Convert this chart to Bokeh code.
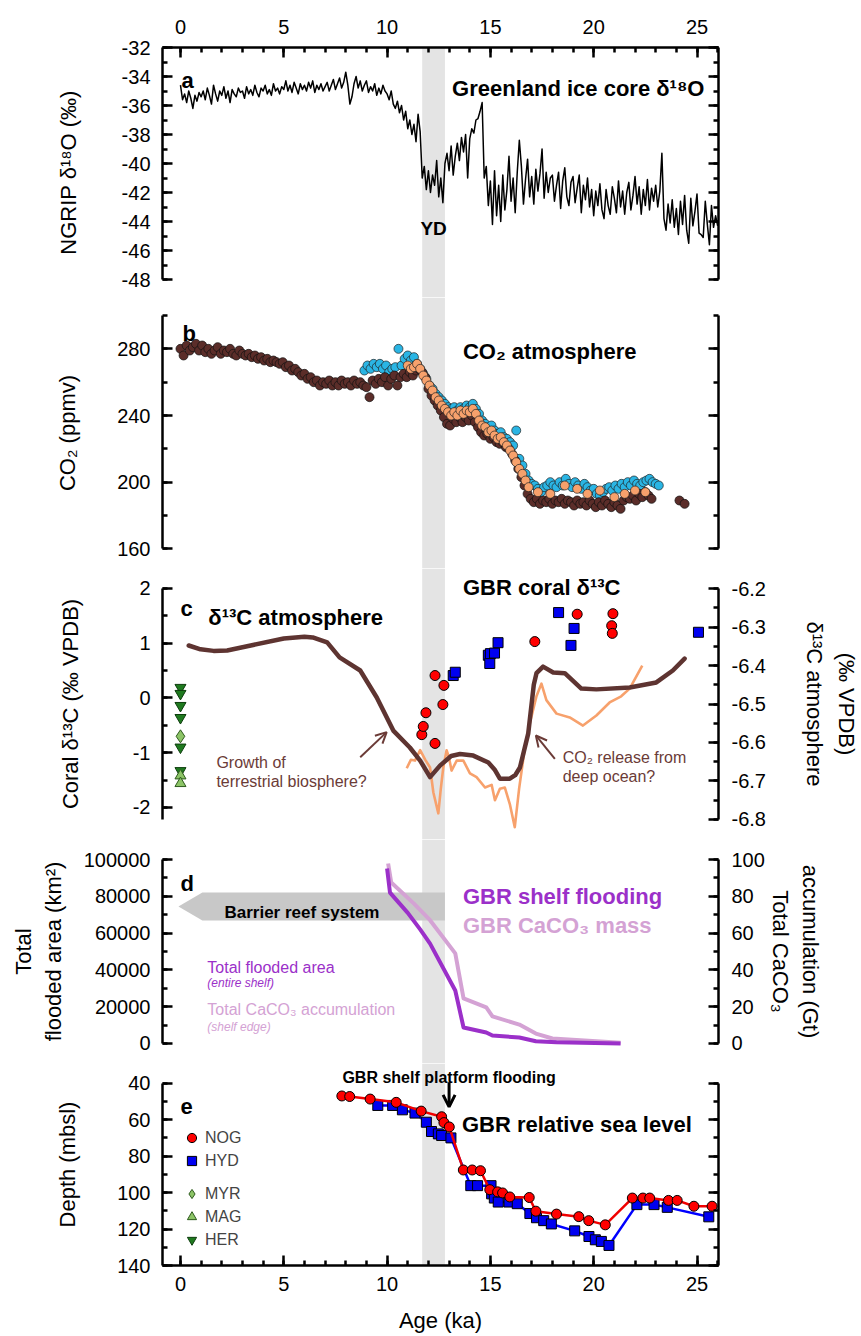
import math
from bokeh.plotting import figure
from bokeh.models import (Range1d, LinearAxis, SingleIntervalTicker, FixedTicker,
                          BoxAnnotation, PolyAnnotation, Label, Arrow, OpenHead, Legend,
                          LegendItem, PrintfTickFormatter)
from bokeh.layouts import column
from bokeh.embed import file_html
from bokeh.resources import INLINE

# ---------------- data ----------------
yd_start, yd_end = 11.7, 12.8

# (a) NGRIP d18O, 0.1 ka sampling from 0 ka
ngrip_step = 0.1
ngrip_d18o = [
    -34.6, -35.6, -35.2, -35.8, -35.0, -35.5, -36.2, -35.3, -35.7, -35.1,
    -35.4, -35.0, -35.6, -34.8, -35.3, -35.9, -34.6, -35.2, -35.7, -35.0,
    -35.3, -34.7, -35.5, -35.0, -35.8, -34.9, -35.2, -35.4, -34.8, -35.1,
    -35.0, -35.5, -34.7, -35.2, -34.9, -35.3, -34.6, -35.1, -35.4, -34.8,
    -35.0, -34.6, -35.2, -34.9, -35.3, -34.5, -35.0, -34.8, -35.2, -34.7,
    -34.9, -34.3, -35.0, -34.6, -35.1, -34.4, -34.8, -35.2, -34.5, -34.9,
    -34.6, -35.0, -34.4, -34.8, -34.3, -35.1, -34.6, -34.9, -34.5, -35.0,
    -34.7, -34.4, -35.0, -34.6, -34.2, -34.9, -34.5, -34.1, -34.8, -34.4,
    -33.7, -34.6, -35.9, -35.4, -34.5, -34.0, -34.8, -34.3, -35.0, -34.6,
    -34.3, -35.1, -34.7, -35.0, -34.5, -35.3, -34.8, -35.2, -34.6, -35.0,
    -35.2, -35.6, -35.0, -35.9, -36.2, -35.7, -36.5, -36.0, -37.0, -36.4,
    -37.6, -37.0, -38.0, -37.3, -38.5, -36.6, -37.8, -41.0, -40.2, -41.8,
    -40.5, -42.0, -40.8, -41.5, -39.8, -42.3, -41.0, -42.7, -40.0, -39.3,
    -40.5, -38.8, -40.8, -39.5, -38.6, -39.8, -38.2, -39.2, -38.0, -41.0,
    -38.3, -37.6, -37.9, -37.0, -36.9, -36.4, -35.8, -41.0, -40.2, -42.9,
    -41.2, -44.2, -40.5, -43.6, -41.5, -44.0, -40.8, -43.2, -41.8, -39.5,
    -42.6, -41.0, -43.4, -40.6, -38.4, -40.2, -42.8, -41.1, -39.7, -42.3,
    -40.9, -42.8, -40.4, -41.9, -40.7, -39.0, -42.4, -40.6, -42.0, -41.0,
    -40.8, -42.6, -41.5, -40.6, -43.1, -41.2, -40.3, -42.3, -42.9, -41.3,
    -40.9, -42.7, -41.7, -40.8, -43.4, -41.5, -42.5, -41.0, -43.0, -41.8,
    -43.6, -41.9, -42.9, -41.4, -43.2, -43.8, -41.8, -42.9, -43.5, -41.6,
    -42.4, -43.4, -41.2, -43.0, -41.9, -43.5, -42.0, -41.3, -43.2, -42.2,
    -40.9, -42.8, -41.6, -43.5, -41.8, -42.9, -41.1, -43.2, -41.7, -42.6,
    -41.5, -43.0, -41.9, -39.3, -43.8, -44.6, -42.8, -44.1, -42.5, -44.4,
    -43.1, -44.9, -42.6, -44.2, -42.2, -44.6, -45.5, -42.4, -44.3, -43.3,
    -42.1, -44.8, -44.9, -45.1, -42.6, -44.2, -45.6, -42.9, -44.4, -43.6, -44.3,
]

# (b) CO2 (ppmv)
co2_dark_step = 0.15
co2_dark = [
    280, 276, 282, 279, 281, 283, 279, 282, 278, 280,
    277, 279, 281, 277, 279, 278, 280, 277, 276, 279,
    277, 276, 277, 275, 276, 274, 275, 273, 274, 272,
    273, 272, 271, 272, 269, 270, 267, 268, 266, 264,
    265, 262, 263, 260, 261, 258, 260, 259, 261, 258,
    260, 258, 261, 259, 260, 258, 261, 259, 260, 258,
    257, 251, 261, 259, 262, 260, 263, 258, 262, 264,
    258, 263, 265, 263, 266, 264, 267, 268, 266, 263,
    256, 252, 249, 246, 243, 239, 235, 234, 238, 236,
    239, 236, 239, 237, 240, 236, 233, 230, 228, 229,
    226, 227, 224, 223, 224, 221, 220, 217, 213, 208,
    203, 198, 193, 190, 188, 190, 187, 189, 188, 190,
    187, 189, 188, 190, 187, 189, 188, 186, 189, 187,
    188, 186, 189, 187, 185, 188, 186, 189, 187, 185,
    188, 186, 184, 189, 191, 190, 192, 189, 193, 191,
    194, 192, 190,
]
co2_dark_tail_age = [24.15, 24.4]
co2_dark_tail = [189, 187]

co2_cyan_start, co2_cyan_step = 8.9, 0.15
co2_cyan = [
    267, 270, 268, 271, 269, 271, 268, 270, 266, 268,
    269, 280, 270, 274, 276, 273, 275, 271, 268, 265,
    262, 258, 256, 253, 251, 249, 247, 245, 244, 245,
    243, 245, 244, 246, 245, 247, 244, 241, 237, 235,
    233, 234, 231, 229, 230, 227, 226, 224, 222, 231,
    214, 210, 205, 201, 199, 198, 196, 194, 197, 198,
    200, 198, 197, 200, 198, 202, 199, 197, 200, 198,
    196, 199, 197, 195, 196, 193, 192, 194, 196, 197,
    195, 198, 196, 199, 197, 200, 198, 201, 199, 198,
    200, 201, 202, 200, 199, 198,
]

co2_orange_age = [
    11.00, 11.15, 11.30, 11.45, 11.60, 11.75, 11.90, 12.05, 12.20, 12.35,
    12.50, 12.65, 12.80, 12.95, 13.10, 13.25, 13.40, 13.55, 13.70, 13.85,
    14.00, 14.15, 14.30, 14.45, 14.60, 14.75, 14.90, 15.05, 15.20, 15.35,
    15.50, 15.65, 15.80, 15.95, 16.10, 16.25, 16.40, 16.55, 16.70, 16.85,
    17.30, 17.90, 18.60, 19.20, 19.70, 20.30, 21.00, 21.50, 22.00, 22.50,
]
co2_orange = [
    270, 268, 269, 271, 268, 264, 261, 258, 255, 251,
    249, 246, 244, 242, 240, 242, 240, 243, 241, 243,
    242, 244, 241, 237, 234, 233, 230, 231, 228, 226,
    227, 224, 222, 219, 216, 212, 208, 205, 201, 197,
    194, 193, 198, 196, 193, 195, 191, 193, 195, 194,
]

# (c) atmospheric d13C (permil) and coral d13C
atm_brown_age = [0.4, 0.97, 1.6, 2.26, 3.4, 5.0, 6.0, 6.4, 7.1, 7.7, 8.7, 9.5, 10.3,
                 11.1, 11.6, 12.08, 12.56, 13.1, 13.53, 14.17, 14.9, 15.2, 15.46,
                 15.94, 16.2, 16.43, 16.83, 17.1, 17.23, 17.55, 18.04, 18.6, 19.0,
                 19.4, 20.13, 21.74, 23.03, 23.83, 24.4]
atm_brown = [-6.348, -6.358, -6.362, -6.361, -6.348, -6.330, -6.325, -6.327, -6.340,
             -6.379, -6.413, -6.483, -6.569, -6.613, -6.647, -6.690, -6.660, -6.635,
             -6.630, -6.634, -6.652, -6.670, -6.694, -6.694, -6.685, -6.665, -6.577,
             -6.450, -6.420, -6.403, -6.418, -6.420, -6.440, -6.460, -6.462, -6.457,
             -6.444, -6.413, -6.382]
atm_orange_age = [10.95, 11.15, 11.35, 11.6, 11.85, 12.08, 12.24, 12.48, 12.6, 12.72,
                  12.88, 13.0, 13.12, 13.37, 13.69, 14.01, 14.33, 14.74, 15.06, 15.22,
                  15.46, 15.70, 15.94, 16.18, 16.39, 16.67, 16.91, 17.23, 17.47, 17.71,
                  18.2, 18.84, 19.48, 20.13, 20.77, 21.33, 21.74, 22.35]
atm_orange = [-6.667, -6.645, -6.647, -6.620, -6.645, -6.665, -6.730, -6.784, -6.720,
              -6.665, -6.620, -6.640, -6.673, -6.647, -6.647, -6.680, -6.690, -6.717,
              -6.710, -6.750, -6.720, -6.717, -6.760, -6.820, -6.720, -6.613, -6.550,
              -6.480, -6.447, -6.490, -6.525, -6.535, -6.556, -6.530, -6.496, -6.480,
              -6.460, -6.400]
nog_c_age = [11.68, 11.75, 11.88, 12.32, 12.32, 12.70, 12.75, 17.15, 19.2, 20.87, 20.9, 20.93]
nog_c_d13c = [-0.67, -0.52, -0.27, 0.41, -0.83, -0.12, 0.23, 1.03, 1.53, 1.32, 1.18, 1.54]
hyd_c_age = [13.2, 13.3, 14.9, 14.97, 15.0, 15.2, 15.37, 18.3, 18.9, 19.05, 25.07]
hyd_c_d13c = [0.41, 0.47, 0.78, 0.63, 0.81, 0.82, 1.01, 1.56, 0.96, 1.27, 1.20]
her_age = [0, 0, 0, 0, 0, 0]
her_d13c = [0.19, 0.08, -0.14, -0.36, -0.90, -1.33]
myr_age = [0]
myr_d13c = [-0.70]
mag_age = [0, 0]
mag_d13c = [-1.42, -1.56]

# (d) shelf flooding and CaCO3
flood_age = [10.0, 10.14, 11.0, 11.6, 12.08, 13.3, 13.7, 14.8, 15.1, 16.4, 17.2, 18.2, 21.3]
flood_area = [95100, 82000, 71000, 62000, 54300, 28800, 8700, 6000, 4300, 3300, 1250, 700, 0]
caco3_age = [10.05, 10.2, 11.3, 12.08, 13.3, 13.7, 14.8, 15.1, 16.4, 17.2, 18.0, 21.3]
caco3_gt = [97.8, 87.5, 76.0, 67.0, 49.0, 24.5, 19.6, 14.7, 10.3, 5.4, 2.7, 0.4]

# (e) relative sea level (mbsl)
nog_age = [7.81, 8.19, 9.18, 10.44, 11.65, 12.64, 12.75, 13.01, 13.69, 14.12, 14.52,
           14.97, 15.35, 15.59, 15.94, 16.88, 17.2, 18.2, 19.28, 19.76, 20.56, 21.87,
           22.38, 22.71, 23.62, 24.04, 24.85, 25.73]
nog_depth = [47.0, 47.3, 48.7, 50.5, 55.3, 58.4, 61.6, 64.0, 87.6, 87.6, 88.0,
             98.4, 99.6, 100.2, 102.4, 102.7, 110.2, 111.8, 113.2, 115.4, 117.7, 103.0,
             103.0, 103.0, 104.3, 104.3, 107.5, 107.5]
hyd_age = [9.55, 10.27, 10.74, 11.35, 11.9, 12.15, 12.48, 12.64, 13.09, 14.05, 14.38,
           15.03, 15.06, 15.19, 15.38, 15.9, 16.3, 16.91, 17.23, 17.58, 17.95, 19.08,
           19.77, 20.08, 20.37, 20.74, 22.09, 22.92, 23.56, 25.57]
hyd_depth = [52.2, 52.2, 54.6, 56.4, 61.4, 66.5, 67.8, 68.7, 70.0, 96.2, 96.2,
             96.2, 100.7, 103.0, 105.2, 105.2, 106.1, 111.5, 113.8, 115.4, 117.2, 121.0,
             124.1, 125.9, 126.8, 129.0, 106.6, 106.6, 108.1, 113.3]

ngrip_age = [round(i * ngrip_step, 2) for i in range(len(ngrip_d18o))]
co2_dark_age = [round(i * co2_dark_step, 2) for i in range(len(co2_dark))] + co2_dark_tail_age
co2_dark_all = co2_dark + co2_dark_tail
co2_cyan_age = [round(co2_cyan_start + i * co2_cyan_step, 2) for i in range(len(co2_cyan))]

# ---------------- styling ----------------
FONT = "Liberation Sans"
BROWN = "#5b2d29"
CYAN = "#2ab5e4"
ORANGE = "#f7a16c"
RED = "#ff0000"
BLUE = "#0000f0"
PURPLE = "#9b30c9"
LILAC = "#d4a2d4"
ANN = "#6b3b37"
HER_FILL, HER_LINE = "#1f7a1f", "#0d3d0d"
LG_FILL, LG_LINE = "#8cc466", "#2d5a1d"
WIDTH = 861
INT = PrintfTickFormatter(format="%d")

x_range = Range1d(-0.87, 26.04)


def base_fig(height, y_range, top=0, bottom=0):
    p = figure(width=WIDTH, height=height, x_range=x_range, y_range=y_range,
               output_backend="svg", toolbar_location=None,
               x_axis_location=None, y_axis_location=None,
               min_border_left=162, min_border_right=142,
               min_border_top=top, min_border_bottom=bottom)
    p.grid.visible = False
    p.outline_line_color = None
    p.background_fill_color = "white"
    p.border_fill_color = "white"
    p.add_layout(BoxAnnotation(left=yd_start, right=yd_end, fill_color="#e4e4e4",
                               fill_alpha=1.0, line_color=None, level="underlay"))
    return p


def add_axis(p, side, interval, minor, bounds, show_labels=True, label=None,
             lab_standoff=12, ax_standoff=10, range_name="default", fmt=INT):
    ax = LinearAxis(ticker=SingleIntervalTicker(interval=interval, num_minor_ticks=minor),
                    bounds=bounds, formatter=fmt)
    if side in ("left", "right"):
        ax.y_range_name = range_name
    ax.axis_line_width = 2.5
    ax.axis_line_color = "black"
    ax.major_tick_line_width = 2.5
    ax.minor_tick_line_width = 2.5
    ax.major_tick_in = 10
    ax.major_tick_out = 0
    ax.minor_tick_in = 5
    ax.minor_tick_out = 0
    ax.major_label_text_font = FONT
    ax.major_label_text_font_size = "20px"
    ax.major_label_text_color = "black"
    ax.major_label_standoff = lab_standoff
    if not show_labels:
        lo, hi = bounds
        n = int(round((hi - lo) / interval))
        ax.major_label_overrides = {round(lo + k * interval, 6): "" for k in range(n + 1)}
    if label:
        ax.axis_label = label
        ax.axis_label_text_font = FONT
        ax.axis_label_text_font_size = "22px"
        ax.axis_label_text_font_style = "normal"
        ax.axis_label_text_color = "black"
        ax.axis_label_standoff = ax_standoff
    p.add_layout(ax, side)
    return ax


def title_axis(p, bounds, text, ax_standoff, range_name="default"):
    """An outer right axis with no line, ticks or tick labels: a second title line."""
    ax = LinearAxis(ticker=FixedTicker(ticks=[]), bounds=bounds, y_range_name=range_name)
    ax.axis_line_color = None
    ax.major_tick_line_color = None
    ax.minor_tick_line_color = None
    ax.major_tick_in = 0
    ax.major_tick_out = 0
    ax.minor_tick_in = 0
    ax.minor_tick_out = 0
    ax.major_label_standoff = 0
    ax.axis_label = text
    ax.axis_label_text_font = FONT
    ax.axis_label_text_font_size = "22px"
    ax.axis_label_text_font_style = "normal"
    ax.axis_label_text_color = "black"
    ax.axis_label_standoff = ax_standoff
    p.add_layout(ax, "right")
    return ax


def label(p, x, y, text, size="22px", style="bold", color="black", align="left",
          baseline="alphabetic", range_name="default"):
    p.add_layout(Label(x=x, y=y, text=text, text_font=FONT, text_font_size=size,
                       text_font_style=style, text_color=color, text_align=align,
                       text_baseline=baseline, y_range_name=range_name))


# ---------------- panel a ----------------
p1 = base_fig(297, Range1d(-49.24, -32.0), top=47)
add_axis(p1, "above", 5, 5, (-0.87, 26.04), lab_standoff=14)
add_axis(p1, "left", 2, 2, (-48, -32), label="NGRIP δ¹⁸O (‰)", ax_standoff=38)
add_axis(p1, "right", 2, 2, (-48, -32), show_labels=False)
p1.line(ngrip_age, ngrip_d18o, line_color="black", line_width=1.5, line_join="round")
label(p1, 0.05, -34.28, "a")
label(p1, 25.36, -34.83, "Greenland ice core δ¹⁸O", align="right")
label(p1, 12.25, -44.48, "YD", size="19px", align="center")

# ---------------- panel b ----------------
p2 = base_fig(271, Range1d(148.2, 310.8))
add_axis(p2, "left", 40, 2, (160, 300), label="CO₂ (ppmv)", ax_standoff=34)
add_axis(p2, "right", 40, 2, (160, 300), show_labels=False)
p2.scatter(co2_cyan_age, co2_cyan, marker="circle", size=9, fill_color=CYAN,
           line_color="#222222", line_width=0.7)
p2.scatter(co2_dark_age, co2_dark_all, marker="circle", size=9, fill_color=BROWN,
           line_color="#111111", line_width=0.7)
p2.scatter(co2_orange_age, co2_orange, marker="circle", size=9, fill_color=ORANGE,
           line_color="#222222", line_width=0.7)
label(p2, 0.1, 289.2, "b")
label(p2, 13.67, 278.4, "CO₂ atmosphere")

# ---------------- panel c ----------------
p3 = base_fig(271, Range1d(-2.585, 2.365))
p3.extra_y_ranges = {"atm": Range1d(-6.852, -6.148)}
add_axis(p3, "left", 1, 2, (-2.22, 2), label="Coral δ¹³C (‰ VPDB)", ax_standoff=47)
add_axis(p3, "right", 0.1, 2, (-6.8001, -6.1999), range_name="atm", lab_standoff=13,
         label="δ¹³C atmosphere", ax_standoff=33, fmt=PrintfTickFormatter(format="%.1f"))
title_axis(p3, (-6.8001, -6.1999), "(‰ VPDB)", 4, range_name="atm")
p3.line(atm_orange_age, atm_orange, y_range_name="atm", line_color=ORANGE,
        line_width=2.6, line_join="round")
p3.line(atm_brown_age, atm_brown, y_range_name="atm", line_color="#5e3431",
        line_width=4.5, line_join="round", line_cap="round")
p3.scatter(hyd_c_age, hyd_c_d13c, marker="square", size=10, fill_color=BLUE,
           line_color="black", line_width=1)
p3.scatter(nog_c_age, nog_c_d13c, marker="circle", size=10, fill_color=RED,
           line_color="black", line_width=1)
p3.scatter(her_age, her_d13c, marker="inverted_triangle", size=11, fill_color=HER_FILL,
           line_color=HER_LINE, line_width=1)
p3.scatter(myr_age, myr_d13c, marker="diamond", size=13, fill_color=LG_FILL,
           line_color=LG_LINE, line_width=1)
p3.scatter(mag_age, mag_d13c, marker="triangle", size=11, fill_color=LG_FILL,
           line_color=LG_LINE, line_width=1)
label(p3, 0.0, 1.635, "c")
label(p3, 1.35, 1.47, "δ¹³C atmosphere")
label(p3, 13.67, 2.02, "GBR coral δ¹³C")
label(p3, 1.74, -1.178, "Growth of", size="16px", style="normal", color=ANN)
label(p3, 1.74, -1.525, "terrestrial biosphere?", size="16px", style="normal", color=ANN)
label(p3, 18.5, -1.087, "CO₂ release from", size="16px", style="normal", color=ANN)
label(p3, 18.5, -1.434, "deep ocean?", size="16px", style="normal", color=ANN)
p3.add_layout(Arrow(end=OpenHead(size=11, line_width=2, line_color=ANN),
                    x_start=8.70, y_start=-1.081, x_end=9.98, y_end=-0.624,
                    line_color=ANN, line_width=2))
p3.add_layout(Arrow(end=OpenHead(size=11, line_width=2, line_color=ANN),
                    x_start=18.12, y_start=-1.111, x_end=17.20, y_end=-0.685,
                    line_color=ANN, line_width=2))

# ---------------- panel d ----------------
p4 = base_fig(224, Range1d(-10870, 110870))
p4.extra_y_ranges = {"gt": Range1d(-10.87, 110.87)}
add_axis(p4, "left", 20000, 2, (0, 100000), label="Total\nflooded area (km²)",
         ax_standoff=15)
add_axis(p4, "right", 20, 2, (0, 100), range_name="gt", lab_standoff=13,
         label="Total CaCO₃", ax_standoff=0)
title_axis(p4, (0, 100), "accumulation (Gt)", 2, range_name="gt")
p4.add_layout(PolyAnnotation(xs=[-0.1, 1.06, yd_end, yd_end, 1.06],
                             ys=[74500, 82000, 82000, 66800, 66800],
                             fill_color="#c8c8c8", fill_alpha=1.0, line_color=None,
                             level="underlay"))
p4.line(caco3_age, caco3_gt, y_range_name="gt", line_color=LILAC, line_width=4,
        line_join="round")
p4.line(flood_age, flood_area, line_color=PURPLE, line_width=4, line_join="round")
label(p4, 0.0, 86960, "d")
label(p4, 5.88, 71200, "Barrier reef system", size="17px", align="center")
label(p4, 13.67, 79900, "GBR shelf flooding", color=PURPLE)
label(p4, 13.67, 64130, "GBR CaCO₃ mass", color=LILAC)
label(p4, 1.3, 41300, "Total flooded area", size="16px", style="normal", color=PURPLE)
label(p4, 1.3, 33150, "(entire shelf)", size="12px", style="italic", color=PURPLE)
label(p4, 1.3, 18480, "Total CaCO₃ accumulation", size="16px", style="normal", color=LILAC)
label(p4, 1.3, 8700, "(shelf edge)", size="12px", style="italic", color=LILAC)

# ---------------- panel e ----------------
p5 = base_fig(272, Range1d(140, 29.19), bottom=67)
add_axis(p5, "below", 5, 5, (-0.87, 26.04), label="Age (ka)", lab_standoff=11,
         ax_standoff=14)
add_axis(p5, "left", 20, 2, (40, 140), label="Depth (mbsl)", ax_standoff=34)
add_axis(p5, "right", 20, 2, (40, 140), show_labels=False)
p5.line(hyd_age, hyd_depth, line_color="#0000ff", line_width=2.5)
r_hyd = p5.scatter(hyd_age, hyd_depth, marker="square", size=10, fill_color=BLUE,
                   line_color="black", line_width=1)
p5.line(nog_age, nog_depth, line_color="#f00000", line_width=2.5)
r_nog = p5.scatter(nog_age, nog_depth, marker="circle", size=10, fill_color=RED,
                   line_color="black", line_width=1)
# modern-coral symbols for the key (their values lie outside this panel's depth range)
r_myr = p5.scatter(myr_age, myr_d13c, marker="diamond", size=13, fill_color=LG_FILL,
                   line_color=LG_LINE, line_width=1)
r_mag = p5.scatter(mag_age, mag_d13c, marker="triangle", size=11, fill_color=LG_FILL,
                   line_color=LG_LINE, line_width=1)
r_her = p5.scatter(her_age, her_d13c, marker="inverted_triangle", size=11,
                   fill_color=HER_FILL, line_color=HER_LINE, line_width=1)
leg1 = Legend(items=[LegendItem(label="NOG", renderers=[r_nog]),
                     LegendItem(label="HYD", renderers=[r_hyd])], location=(18, 93))
leg2 = Legend(items=[LegendItem(label="MYR", renderers=[r_myr]),
                     LegendItem(label="MAG", renderers=[r_mag]),
                     LegendItem(label="HER", renderers=[r_her])], location=(18, 14))
for lg in (leg1, leg2):
    lg.border_line_color = None
    lg.background_fill_alpha = 0
    lg.padding = 0
    lg.margin = 0
    lg.spacing = 0
    lg.glyph_width = 23
    lg.glyph_height = 23
    lg.label_height = 23
    lg.label_standoff = 2
    lg.label_text_font = FONT
    lg.label_text_font_size = "16px"
    p5.add_layout(lg)
label(p5, 0.0, 53.0, "e")
label(p5, 13.0, 36.8, "GBR shelf platform flooding", size="16px", align="center")
p5.add_layout(Arrow(end=OpenHead(size=12, line_width=3, line_color="black"),
                    x_start=13.0, y_start=39.5, x_end=13.0, y_end=53.0,
                    line_color="black", line_width=3))
label(p5, 13.62, 62.7, "GBR relative sea level")

layout = column(p1, p2, p3, p4, p5)
open("out.html", "w").write(file_html(layout, INLINE))
